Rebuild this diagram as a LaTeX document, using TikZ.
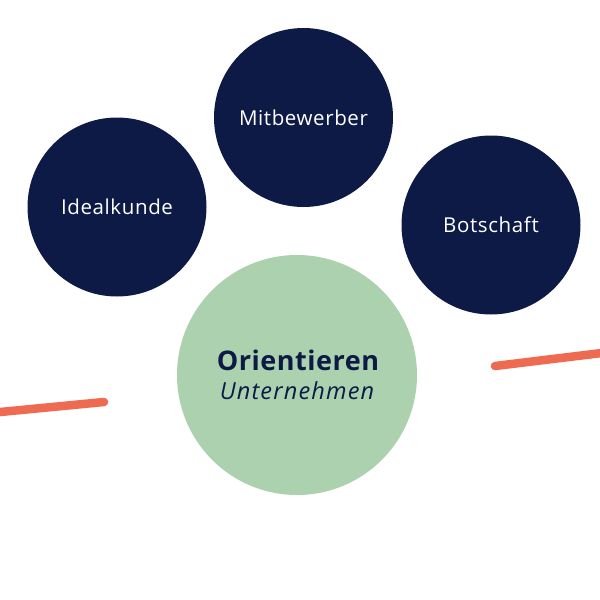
\documentclass[tikz,border=0pt]{standalone}
\usepackage{fontspec}
\setmainfont{Open Sans}
\definecolor{navy}{HTML}{0D1A45}
\definecolor{sage}{HTML}{ABD1AE}
\definecolor{coral}{HTML}{EE6A50}
\begin{document}
\begin{tikzpicture}[x=1pt,y=-1pt,
  darkcirc/.style={circle,fill=navy,minimum size=179pt,inner sep=0pt,text=white,font=\fontsize{20.5}{24}\selectfont\addfontfeature{LetterSpace=3}},
  greencirc/.style={circle,fill=sage,minimum size=240pt,inner sep=0pt},
  lbl/.style={text=navy,inner sep=0pt,anchor=base},
  stroke/.style={draw=coral,line width=8.5pt,line cap=round}]
\useasboundingbox (0,0) rectangle (600,600);
\node[darkcirc] (mit) at (303.5,117.5) {Mitbewerber};
\node[darkcirc] (ideal) at (117,207) {Idealkunde};
\node[darkcirc] (bot) at (491,225) {Botschaft};
\node[greencirc] (ori) at (297,375) {};
\node[lbl,font=\fontsize{27}{30}\selectfont\bfseries\addfontfeature{LetterSpace=2}] (t1) at (298,370.5) {Orientieren};
\node[lbl,font=\fontsize{23.5}{26}\selectfont\itshape\addfontfeature{LetterSpace=5}] (t2) at (297,399) {Unternehmen};
\coordinate (l1) at (-10,413);
\coordinate (l2) at (104,402);
\coordinate (r1) at (495,366);
\coordinate (r2) at (610,352);
\draw[stroke] (l1) -- (l2);
\draw[stroke] (r1) -- (r2);
\end{tikzpicture}
\end{document}
